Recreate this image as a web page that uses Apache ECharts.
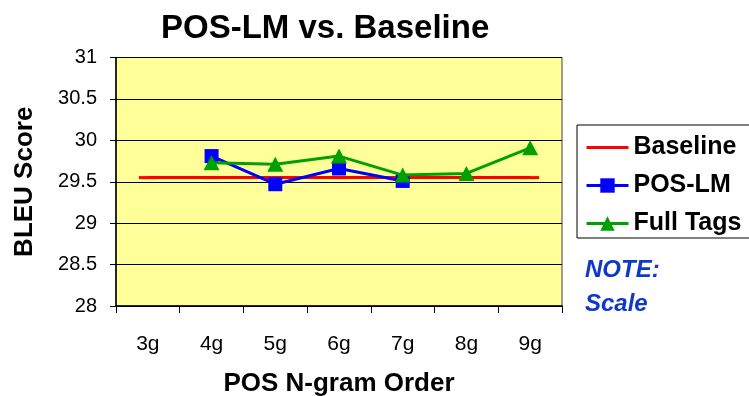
<!DOCTYPE html>
<html>
<head>
<meta charset="utf-8">
<script src="https://cdn.jsdelivr.net/npm/echarts@6/dist/echarts.min.js"></script>
<style>
  html, body { margin: 0; padding: 0; background: #fff; }
  #chart { width: 749px; height: 396px; }
</style>
</head>
<body>
<div id="chart"></div>
<script>
// POS n-gram orders on the category axis
const categories = ['3g', '4g', '5g', '6g', '7g', '8g', '9g'];
// BLEU scores per order
const baseline = [29.55, 29.55, 29.55, 29.55, 29.55, 29.55, 29.55];
const posLM = [null, 29.81, 29.47, 29.66, 29.51, null, null];
const fullTags = [null, 29.73, 29.71, 29.81, 29.58, 29.60, 29.91];
// value axis range
const yMin = 28, yMax = 31, yStep = 0.5;

const FONT = '"Liberation Sans", Arial, sans-serif';

const chart = echarts.init(document.getElementById('chart'), null, { renderer: 'canvas' });

chart.setOption({
  animation: false,
  backgroundColor: '#ffffff',
  title: {
    text: 'POS-LM vs. Baseline',
    left: 161,
    top: 12,
    padding: 0,
    textStyle: { fontFamily: FONT, fontSize: 33, fontWeight: 'bold', color: '#000' }
  },
  grid: {
    left: 116, right: 187, top: 57.5, bottom: 90,
    outerBoundsMode: 'none',
    containLabel: false,
    show: true,
    backgroundColor: '#FFFF99',
    borderColor: '#404040',
    borderWidth: 1
  },
  legend: {
    orient: 'vertical',
    left: 577,
    top: 125,
    padding: [10, 30, 2, 8],
    itemWidth: 42,
    itemHeight: 18,
    itemGap: 13,
    borderColor: '#000',
    borderWidth: 1,
    backgroundColor: '#fff',
    lineStyle: { width: 3 },
    textStyle: { fontFamily: FONT, fontSize: 25, fontWeight: 'bold', color: '#000' },
    data: [
      { name: 'Baseline', icon: 'path://M0,0L42,0L42,3L0,3Z' },
      'POS-LM',
      'Full Tags'
    ]
  },
  graphic: [
    {
      type: 'text',
      left: 585,
      top: 253,
      style: {
        text: 'NOTE:\nScale',
        font: 'italic bold 24px ' + FONT,
        fill: '#1038C8',
        lineHeight: 34
      }
    }
  ],
  xAxis: {
    type: 'category',
    data: categories,
    boundaryGap: true,
    name: 'POS N-gram Order',
    nameLocation: 'middle',
    nameGap: 65,
    nameTextStyle: { fontFamily: FONT, fontSize: 26, fontWeight: 'bold', color: '#000' },
    axisLine: { lineStyle: { color: '#000', width: 1.5 } },
    axisTick: { show: true, inside: false, length: 7, alignWithLabel: false, lineStyle: { color: '#000' } },
    axisLabel: { margin: 28, fontFamily: FONT, fontSize: 21, color: '#000' },
    splitLine: { show: false }
  },
  yAxis: {
    type: 'value',
    min: yMin,
    max: yMax,
    interval: yStep,
    name: 'BLEU Score',
    nameLocation: 'middle',
    nameRotate: 90,
    nameGap: 78,
    nameTextStyle: { fontFamily: FONT, fontSize: 26, fontWeight: 'bold', color: '#000' },
    axisLine: { show: true, lineStyle: { color: '#000', width: 1.5 } },
    axisTick: { show: true, inside: false, length: 6, lineStyle: { color: '#000' } },
    axisLabel: { margin: 19, fontFamily: FONT, fontSize: 20, color: '#000' },
    splitLine: { show: true, lineStyle: { color: '#000', width: 1.2 } }
  },
  series: [
    {
      name: 'Baseline',
      type: 'line',
      data: baseline,
      color: '#FF0000',
      symbol: 'rect',
      symbolSize: [18, 3],
      lineStyle: { color: '#FF0000', width: 3 },
      itemStyle: { color: '#FF0000' },
      z: 2
    },
    {
      name: 'POS-LM',
      type: 'line',
      data: posLM,
      color: '#0000FF',
      symbol: 'rect',
      symbolSize: 14,
      connectNulls: false,
      lineStyle: { color: '#0000FF', width: 3 },
      itemStyle: { color: '#0000FF' },
      z: 3
    },
    {
      name: 'Full Tags',
      type: 'line',
      data: fullTags,
      color: '#00A000',
      symbol: 'triangle',
      symbolSize: [16, 15],
      connectNulls: false,
      lineStyle: { color: '#00A000', width: 3 },
      itemStyle: { color: '#00A000' },
      z: 4
    }
  ]
});
</script>
</body>
</html>
